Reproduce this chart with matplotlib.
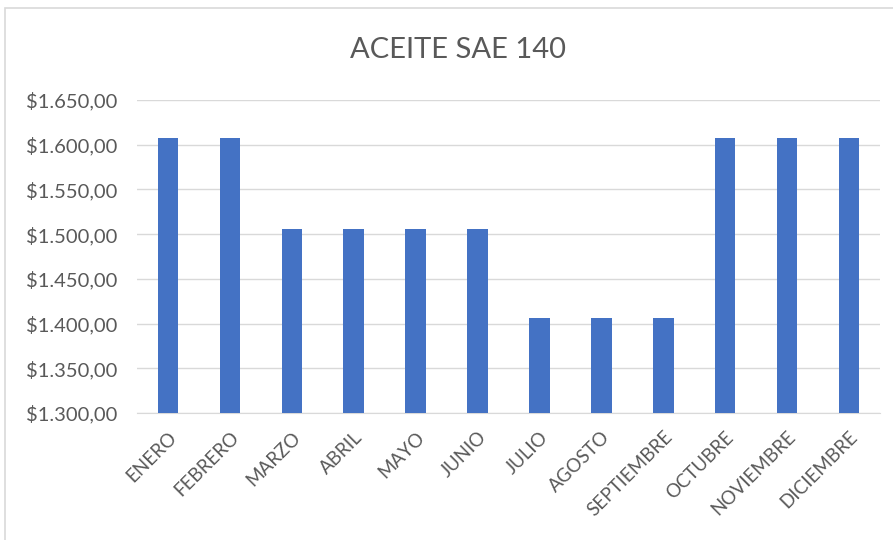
import matplotlib
matplotlib.use("Agg")
import matplotlib.pyplot as plt
from matplotlib.patches import Rectangle
from matplotlib.ticker import FuncFormatter

meses = ["ENERO", "FEBRERO", "MARZO", "ABRIL", "MAYO", "JUNIO", "JULIO",
         "AGOSTO", "SEPTIEMBRE", "OCTUBRE", "NOVIEMBRE", "DICIEMBRE"]
precios = [1607, 1607, 1506, 1506, 1506, 1506, 1406, 1406, 1406, 1607, 1607, 1607]
titulo = "ACEITE SAE 140"

plt.rcParams['font.family'] = ['Lato', 'DejaVu Sans']
fig = plt.figure(figsize=(8.93, 5.4), dpi=100)
fig.patches.append(Rectangle((5/893, -0.1), 1.2, 1 - 8/540 + 0.1, transform=fig.transFigure,
                             fill=False, edgecolor="#d9d9d9", linewidth=1.2))
ax = fig.add_axes([137/893, 1 - 413/540, (880 - 137)/893, (413 - 100)/540])

x = list(range(len(meses)))
ax.bar(x, precios, width=0.33, color="#4472c4", zorder=3)
ax.set_xlim(-0.5, len(meses) - 0.5)
ax.set_ylim(1300, 1650)
ax.set_yticks(range(1300, 1651, 50))

def fmt(v, pos):
    s = f"{v:,.2f}"
    s = s.replace(",", "X").replace(".", ",").replace("X", ".")
    return "$" + s

ax.yaxis.set_major_formatter(FuncFormatter(fmt))
ax.grid(axis="y", color="#d9d9d9", linewidth=1, zorder=0)
for s in ["top", "right", "left"]:
    ax.spines[s].set_visible(False)
ax.spines["bottom"].set_color("#d9d9d9")
ax.tick_params(axis="both", length=0, colors="#595959")
ax.tick_params(axis="y", pad=14, labelsize=14.5)
ax.set_xticks(x)
ax.set_xticklabels(meses, rotation=45, ha="right", rotation_mode="anchor")
ax.tick_params(axis="x", pad=11, labelsize=13.5)
fig.text(458/893, 1 - 50/540, titulo, ha="center", va="center", fontsize=21, color="#595959")
fig.savefig("out.png", dpi=100)
